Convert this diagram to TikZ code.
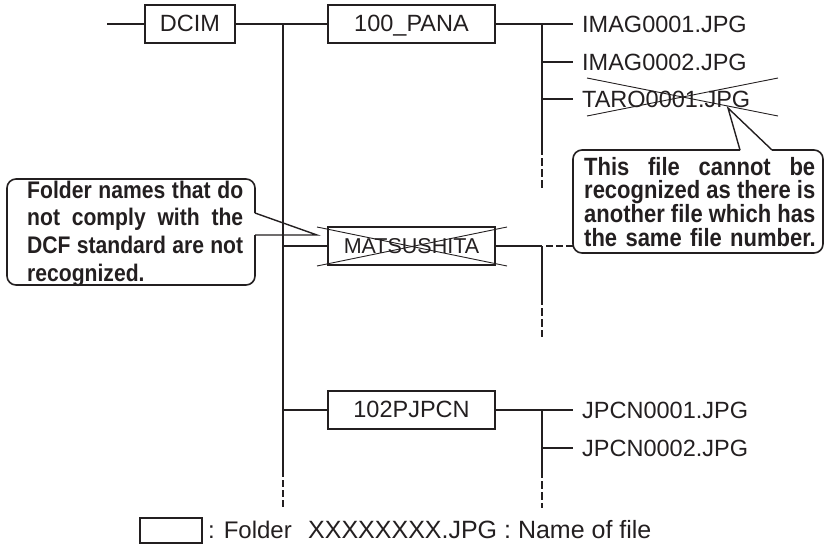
\documentclass[tikz,border=0pt]{standalone}
\usepackage{fontspec}
\setmainfont{Liberation Sans}
\newfontfamily\notefont{Liberation Sans}[FakeStretch=0.88]
\definecolor{ink}{HTML}{231F20}
\newcommand{\jl}[2]{\makebox[#1][s]{\spaceskip=\fontdimen2\font plus 1fil\relax #2}}
\begin{document}
\begin{tikzpicture}[x=1pt,y=-1pt, color=ink,
  tree/.style={line width=2.6pt},
  dashtree/.style={line width=2.6pt, dash pattern=on 8pt off 3pt},
  folder/.style={draw, line width=1.3pt, minimum width=167pt, minimum height=38pt, inner sep=0pt,
    text height=16.8pt, text depth=2pt, font=\fontsize{23.5}{28}\selectfont},
  file/.style={anchor=west, inner xsep=9pt, inner ysep=0pt, font=\fontsize{23.5}{28}\selectfont},
  cross/.style={line width=0.9pt},
  callout/.style={line width=1.6pt, rounded corners=9pt},
  ptr/.style={line width=1.4pt},
  notetext/.style={anchor=base west, inner sep=0pt},
]
\useasboundingbox (0,0) rectangle (825,547);

% folders
\node[folder, minimum width=90pt] (dcim) at (190,24) {DCIM};
\node[folder] (pana) at (411.5,24) {100\_PANA};
\node[folder, font=\fontsize{21.5}{26}\selectfont] (matsu) at (411.5,246) {MATSUSHITA};
\node[folder] (jp) at (411.5,410) {102PJPCN};

% files
\node[file] (f1) at (573,24) {IMAG0001.JPG};
\node[file] (f2) at (573,62) {IMAG0002.JPG};
\node[file] (f3) at (573,99) {TARO0001.JPG};
\node[file] (f4) at (573,410) {JPCN0001.JPG};
\node[file] (f5) at (573,448) {JPCN0002.JPG};

% trunk
\coordinate (s0) at (107,24);
\coordinate (t0) at (283,24);
\coordinate (t1) at (283,246);
\coordinate (t2) at (283,410);
\coordinate (t3) at (283,477);
\coordinate (t4) at (283,480);
\coordinate (t5) at (283,507);
\draw[tree] (s0) -- (dcim.west);
\draw[tree] (dcim.east) -- (pana.west);
\draw[tree] (t0) -- (t3);
\draw[tree, dash pattern=on 7pt off 3pt] (t4) -- (t5);
\draw[tree] (t1) -- (matsu.west);
\draw[tree] (t2) -- (jp.west);

% 100_PANA branch
\coordinate (a0) at (542,24);
\coordinate (a1) at (542,62);
\coordinate (a2) at (542,99);
\coordinate (a3) at (542,155);
\coordinate (a4) at (542,158);
\coordinate (a5) at (542,188);
\draw[tree] (pana.east) -- (f1.west);
\draw[tree] (a0) -- (a3);
\draw[dashtree] (a4) -- (a5);
\draw[tree] (a1) -- (f2.west);
\draw[tree] (a2) -- (f3.west);

% MATSUSHITA branch
\coordinate (b0) at (542,246);
\coordinate (b1) at (542,305);
\coordinate (b2) at (542,308);
\coordinate (b3) at (542,337);
\coordinate (b4) at (546,246);
\coordinate (c2) at (573,246);
\draw[tree] (matsu.east) -- (b0);
\draw[tree, dash pattern=on 7pt off 3pt] (b4) -- (c2);
\draw[tree] (b0) -- (b1);
\draw[dashtree] (b2) -- (b3);

% 102PJPCN branch
\coordinate (d0) at (542,410);
\coordinate (d1) at (542,448);
\coordinate (d2) at (542,478);
\coordinate (d3) at (542,481);
\coordinate (d4) at (542,508);
\draw[tree] (jp.east) -- (f4.west);
\draw[tree] (d0) -- (d2);
\draw[dashtree] (d3) -- (d4);
\draw[tree] (d1) -- (f5.west);

% crossings
\draw[cross] (317,227) -- (507,266);
\draw[cross] (317,266) -- (507,227);
\draw[cross] (587,78) -- (778,116);
\draw[cross] (587,116) -- (778,78);

% left callout
\draw[callout] (255,235) -- (255,285) -- (7,285) -- (7,179) -- (255,179) -- (255,213);
\draw[ptr] (255,213) -- (317,235) -- (255,235);
\node[notetext, text width=240pt, font=\notefont\bfseries\fontsize{24}{27.7}\selectfont] (n1) at (27,198)
  {\jl{216pt}{Folder names that do}\\
   \jl{216pt}{not comply with the}\\
   \jl{216pt}{DCF standard are not}\\
   \makebox{recognized.}};

% right callout
\draw[callout] (740,150) -- (573,150) -- (573,253) -- (823,253) -- (823,150) -- (772,150);
\draw[ptr] (740,150) -- (728,108) -- (772,150);
\node[notetext, text width=240pt, font=\notefont\bfseries\fontsize{25}{23.7}\selectfont] (n2) at (584,175)
  {\jl{231pt}{This file cannot be}\\
   \jl{231pt}{recognized as there is}\\
   \jl{231pt}{another file which has}\\
   \makebox{the same file number.}};

% legend
\node[draw, line width=1.1pt, minimum width=62pt, minimum height=25pt, inner sep=0pt] (leg) at (171,530.5) {};
\node[notetext, font=\fontsize{24}{28}\selectfont] (l1) at (208,538) {: Folder};
\node[notetext, font=\fontsize{25}{28}\selectfont] (l2) at (308,538) {XXXXXXXX.JPG : Name of file};
\end{tikzpicture}
\end{document}
